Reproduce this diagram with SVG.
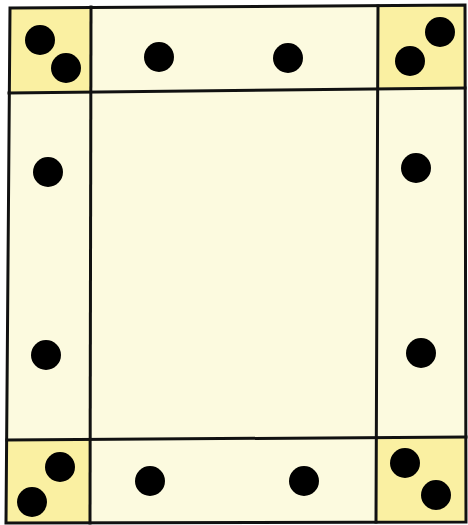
<svg xmlns="http://www.w3.org/2000/svg" width="468" height="525" viewBox="0 0 468 525">
<style>
.cream{fill:#FCFADF;stroke:none}
.corner{fill:#FAF0A2;stroke:none}
.ln{stroke:#111;stroke-width:3;fill:none;stroke-linecap:square}
.dot{fill:#000}
</style>
<rect width="468" height="525" fill="#fff"/>
<g id="frame-fill">
<polygon class="cream" points="10,8 465,5 466,522 6,523"/>
</g>
<g id="corner-tl"><polygon class="corner" points="10,8 91,7 91,93 9,93"/>
<circle class="dot" cx="40" cy="40" r="15"/><circle class="dot" cx="66" cy="68" r="15"/></g>
<g id="corner-tr"><polygon class="corner" points="378,6 465,5 465,88 378,89"/>
<circle class="dot" cx="440" cy="32" r="15"/><circle class="dot" cx="410" cy="61" r="15"/></g>
<g id="corner-bl"><polygon class="corner" points="7,440 90,440 90,523 6,523"/>
<circle class="dot" cx="60" cy="467" r="15"/><circle class="dot" cx="32" cy="502" r="15"/></g>
<g id="corner-br"><polygon class="corner" points="376,437 466,437 466,522 376,522"/>
<circle class="dot" cx="405" cy="463" r="15"/><circle class="dot" cx="436" cy="495" r="15"/></g>
<g id="edge-top"><circle class="dot" cx="159" cy="57" r="15"/><circle class="dot" cx="288" cy="58" r="15"/></g>
<g id="edge-left"><circle class="dot" cx="48" cy="172" r="15"/><circle class="dot" cx="46" cy="355" r="15"/></g>
<g id="edge-right"><circle class="dot" cx="416" cy="168" r="15"/><circle class="dot" cx="421" cy="353" r="15"/></g>
<g id="edge-bottom"><circle class="dot" cx="150" cy="481" r="15"/><circle class="dot" cx="304" cy="481" r="15"/></g>
<g id="lines">
<polygon class="ln" points="10,8 465,5 466,522 6,523"/>
<line class="ln" x1="91" y1="7" x2="90" y2="523"/>
<line class="ln" x1="378" y1="6" x2="376" y2="522"/>
<line class="ln" x1="9" y1="93" x2="465" y2="88"/>
<line class="ln" x1="7" y1="440" x2="466" y2="437"/>
</g>
</svg>
